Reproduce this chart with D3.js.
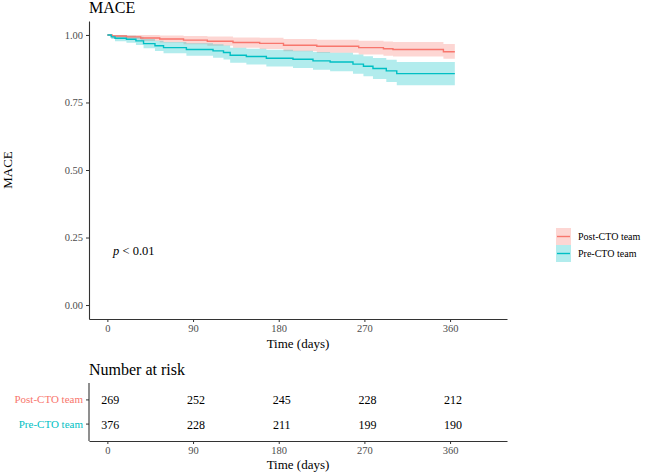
<!DOCTYPE html>
<html>
<head>
<meta charset="utf-8">
<script src="https://cdn.jsdelivr.net/npm/d3@7"></script>
<style>
body { margin: 0; background: white; }
svg { font-family: "Liberation Serif", "Times New Roman", serif; }
</style>
</head>
<body>
<svg id="chart" width="646" height="472"></svg>
<script>
// data
var groups = ["Post-CTO team", "Pre-CTO team"];
var colors = ["#F8766D", "#00BFC4"];

var postTime  = [0, 5, 20, 35, 55, 80, 105, 132, 160, 185, 220, 264, 290, 300, 353, 365];
var postSurv  = [1, 0.996, 0.993, 0.989, 0.985, 0.981, 0.977, 0.972, 0.969, 0.962, 0.958, 0.953, 0.949, 0.946, 0.938, 0.938];
var postLower = [1, 0.988, 0.984, 0.978, 0.972, 0.966, 0.960, 0.953, 0.948, 0.940, 0.934, 0.928, 0.923, 0.920, 0.912, 0.912];
var postUpper = [1, 1, 1, 1, 0.998, 0.996, 0.994, 0.991, 0.990, 0.985, 0.982, 0.979, 0.976, 0.974, 0.967, 0.967];

var preTime  = [0, 4, 8, 20, 30, 38, 50, 59, 83, 111, 122, 129, 146, 167, 195, 216, 234, 258, 269, 279, 293, 304, 365];
var preSurv  = [1, 0.993, 0.988, 0.984, 0.978, 0.968, 0.960, 0.953, 0.946, 0.941, 0.935, 0.925, 0.920, 0.914, 0.910, 0.904, 0.900, 0.892, 0.884, 0.876, 0.867, 0.857, 0.857];
var preLower = [1, 0.985, 0.977, 0.971, 0.963, 0.951, 0.941, 0.932, 0.923, 0.916, 0.909, 0.897, 0.891, 0.883, 0.878, 0.871, 0.866, 0.856, 0.847, 0.837, 0.826, 0.814, 0.814];
var preUpper = [1, 1, 0.999, 0.997, 0.993, 0.985, 0.979, 0.974, 0.969, 0.966, 0.961, 0.953, 0.949, 0.945, 0.942, 0.937, 0.934, 0.928, 0.921, 0.915, 0.908, 0.900, 0.900];

var xTicks = [0, 90, 180, 270, 360];
var yTicks = [0, 0.25, 0.5, 0.75, 1];
var riskPost = [269, 252, 245, 228, 212];
var riskPre  = [376, 228, 211, 199, 190];

var svg = d3.select("#chart");
var left = 89, right = 507;
var top1 = 21, bottom1 = 319;
var top2 = 383, bottom2 = 441;
var tickColor = "#4d4d4d";

var x = d3.scaleLinear().domain([-19.3, 419.8]).range([left, right]);
var y = d3.scaleLinear().domain([-0.0517, 1.0517]).range([bottom1, top1]);

function rows(t, s, lo, hi) {
	return t.map(function (d, i) { return {t: d, s: s[i], lo: lo[i], hi: hi[i]}; });
}
var series = [rows(postTime, postSurv, postLower, postUpper), rows(preTime, preSurv, preLower, preUpper)];

// ---- survival panel ----
var main = svg.append("g");

series.forEach(function (d, i) {
	var band = d3.area().curve(d3.curveStepAfter)
	    .x(function (p) { return x(p.t); })
	    .y0(function (p) { return y(p.lo); })
	    .y1(function (p) { return y(p.hi); });
	main.append("path").attr("d", band(d))
	    .attr("fill", colors[i]).attr("fill-opacity", 0.3);
});
series.forEach(function (d, i) {
	var line = d3.line().curve(d3.curveStepAfter)
	    .x(function (p) { return x(p.t); })
	    .y(function (p) { return y(p.s); });
	main.append("path").attr("d", line(d))
	    .attr("fill", "none").attr("stroke", colors[i]).attr("stroke-width", 1.4);
});

function styleAxis(g) {
	g.select(".domain").attr("stroke", "#333").attr("stroke-width", 1.1);
	g.selectAll(".tick line").attr("stroke", "#333");
	g.selectAll(".tick text").attr("fill", tickColor).attr("font-size", 10.5)
	    .attr("font-family", "Liberation Serif, serif");
}

main.append("g").attr("transform", "translate(" + left + ",0)")
    .call(d3.axisLeft(y).tickValues(yTicks).tickFormat(d3.format(".2f")).tickSize(3).tickSizeOuter(0))
    .call(styleAxis);
main.append("g").attr("transform", "translate(0," + bottom1 + ")")
    .call(d3.axisBottom(x).tickValues(xTicks).tickSize(3).tickSizeOuter(0))
    .call(styleAxis);

svg.append("text").attr("x", left).attr("y", 13).attr("font-size", 16).text("MACE");
svg.append("text").attr("transform", "translate(12," + (top1 + bottom1) / 2 + ") rotate(-90)")
    .attr("text-anchor", "middle").attr("font-size", 13).text("MACE");
svg.append("text").attr("x", (left + right) / 2).attr("y", 348)
    .attr("text-anchor", "middle").attr("font-size", 13).text("Time (days)");

var pt = svg.append("text").attr("x", x(6)).attr("y", y(0.2) + 4).attr("font-size", 12.5);
pt.append("tspan").attr("font-style", "italic").text("p");
pt.append("tspan").text(" < 0.01");

// legend
var legend = svg.append("g").attr("transform", "translate(556,228)");
groups.forEach(function (g, i) {
	var row = legend.append("g").attr("transform", "translate(0," + i * 17 + ")");
	row.append("rect").attr("width", 15).attr("height", 17)
	    .attr("fill", colors[i]).attr("fill-opacity", 0.3);
	row.append("line").attr("x1", 1).attr("x2", 14).attr("y1", 8.5).attr("y2", 8.5)
	    .attr("stroke", colors[i]).attr("stroke-width", 1.4);
	row.append("text").attr("x", 22).attr("y", 12).attr("font-size", 10).text(g);
});

// ---- risk table ----
var yr = d3.scaleBand().domain(groups).range([top2, bottom2]).paddingOuter(0.2);
var table = svg.append("g");
svg.append("text").attr("x", left).attr("y", 375).attr("font-size", 16).text("Number at risk");

var yAxis2 = table.append("g").attr("transform", "translate(" + left + ",0)")
    .call(d3.axisLeft(yr).tickSize(3).tickSizeOuter(0))
    .call(styleAxis);
yAxis2.selectAll(".tick text").attr("fill", function (d, i) { return colors[i]; }).attr("font-size", 11);
yAxis2.select(".domain").attr("d", "M0," + top2 + "V" + bottom2);

table.append("g").attr("transform", "translate(0," + bottom2 + ")")
    .call(d3.axisBottom(x).tickValues(xTicks).tickSize(3).tickSizeOuter(0))
    .call(styleAxis);

[riskPost, riskPre].forEach(function (vals, i) {
	table.selectAll(null).data(vals).enter().append("text")
	    .attr("x", function (d, j) { return x(xTicks[j]) + 3; })
	    .attr("y", yr(groups[i]) + yr.bandwidth() / 2 + 4.5)
	    .attr("text-anchor", "middle").attr("font-size", 12)
	    .text(function (d) { return d; });
});

svg.append("text").attr("x", (left + right) / 2).attr("y", 469)
    .attr("text-anchor", "middle").attr("font-size", 13).text("Time (days)");
</script>
</body>
</html>
